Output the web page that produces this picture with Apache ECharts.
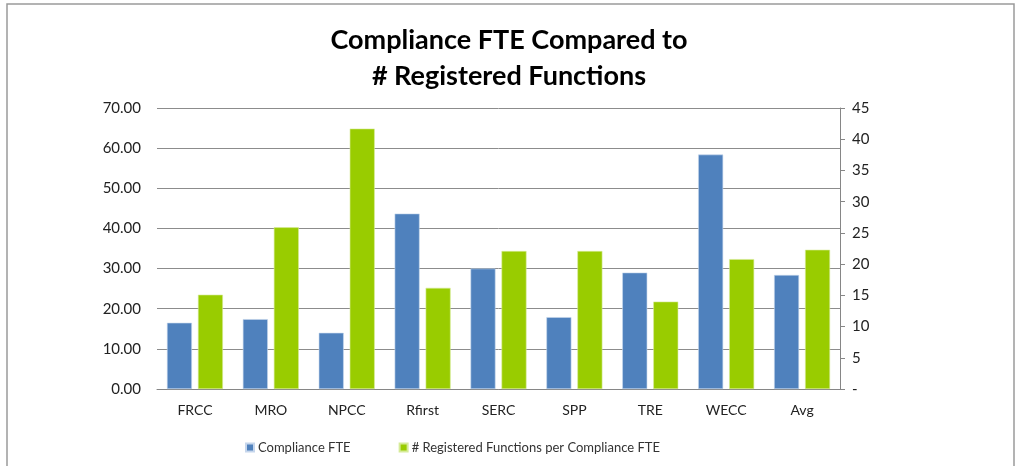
<!DOCTYPE html>
<html>
<head>
<meta charset="utf-8">
<script src="https://cdn.jsdelivr.net/npm/echarts@6/dist/echarts.min.js"></script>
<style>
  html, body { margin: 0; padding: 0; background: #fff; }
  #chart { width: 1018px; height: 466px; }
</style>
</head>
<body>
<div id="chart"></div>
<script>
const regions = ['FRCC', 'MRO', 'NPCC', 'Rfirst', 'SERC', 'SPP', 'TRE', 'WECC', 'Avg'];
const complianceFte = [16.5, 17.4, 14.0, 43.7, 30.0, 17.9, 29.0, 58.4, 28.4];
const functionsPerFte = [15.1, 25.9, 41.7, 16.2, 22.1, 22.1, 14.0, 20.8, 22.3];

const chart = echarts.init(document.getElementById('chart'));
const font = 'Lato, "Open Sans", sans-serif';

chart.setOption({
    animation: false,
    textStyle: { fontFamily: font },
    graphic: [{
        type: 'rect',
        shape: { x: 7, y: 4, width: 1007, height: 470 },
        style: { fill: 'none', stroke: '#9a9a9a', lineWidth: 1.5 }
    }],
    title: {
        text: 'Compliance FTE Compared to\n# Registered Functions',
        left: 'center',
        top: 17,
        textStyle: { fontFamily: font, fontSize: 27, fontWeight: 'bold', color: '#000', lineHeight: 36 }
    },
    legend: {
        left: 240,
        top: 436,
        itemWidth: 8,
        itemHeight: 8,
        itemGap: 48,
        icon: 'rect',
        textStyle: { fontFamily: font, fontSize: 13, color: '#333', padding: [0, 0, 0, -1] },
        data: ['Compliance FTE', '# Registered Functions per Compliance FTE']
    },
    grid: { left: 157, right: 178, top: 108, bottom: 77 },
    xAxis: {
        type: 'category',
        data: regions,
        axisLine: { lineStyle: { color: '#868686' } },
        axisTick: { show: false },
        axisLabel: { color: '#222', fontSize: 14, margin: 14 }
    },
    yAxis: [{
        type: 'value',
        min: 0, max: 70, interval: 10,
        axisLine: { show: false },
        axisTick: { show: false },
        splitLine: { lineStyle: { color: '#8c8c8c' } },
        axisLabel: { color: '#222', fontSize: 15, margin: 16, formatter: v => v.toFixed(2) }
    }, {
        type: 'value',
        min: 0, max: 45, interval: 5,
        position: 'right',
        axisLine: { show: true, lineStyle: { color: '#868686' } },
        axisTick: { show: true, length: 5, lineStyle: { color: '#868686' } },
        splitLine: { show: false },
        axisLabel: { color: '#222', fontSize: 15, margin: 12, formatter: v => v === 0 ? '-' : String(v) }
    }],
    series: [{
        name: 'Compliance FTE',
        type: 'bar',
        yAxisIndex: 0,
        data: complianceFte,
        barWidth: 25,
        barGap: '24%',
        itemStyle: { color: '#4f81bd', borderColor: '#c6d6ec', borderWidth: 0.6 }
    }, {
        name: '# Registered Functions per Compliance FTE',
        type: 'bar',
        yAxisIndex: 1,
        data: functionsPerFte,
        barWidth: 25,
        itemStyle: { color: '#99cc00', borderColor: '#d6eb99', borderWidth: 0.6 }
    }]
});
window.addEventListener('resize', () => chart.resize());
</script>
</body>
</html>
